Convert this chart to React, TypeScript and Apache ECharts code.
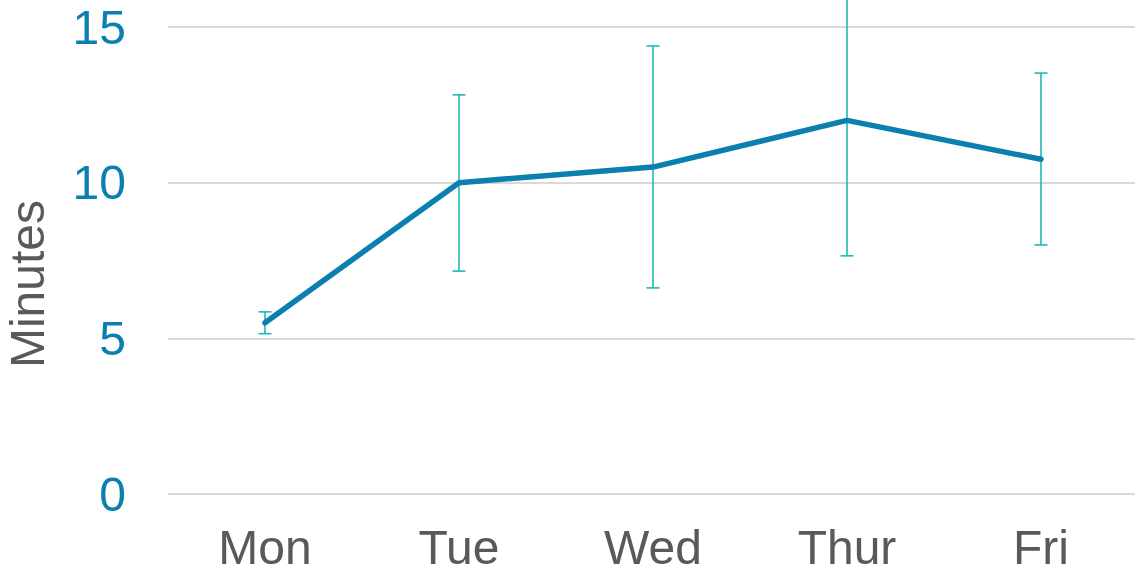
import React, { useEffect, useRef } from "react";
import * as echarts from "echarts";

const days = ["Mon", "Tue", "Wed", "Thur", "Fri"];
const minutes = [5.5, 10, 10.5, 12, 10.75];
const errLow = [5.15, 7.16, 6.62, 7.65, 8.0];
const errHigh = [5.85, 12.82, 14.39, 16.35, 13.52];
const yTicks = [0, 5, 10, 15];

export default function App() {
  const ref = useRef<HTMLDivElement>(null);
  useEffect(() => {
    const chart = echarts.init(ref.current!, null, { renderer: "svg" });
    const font = "'Liberation Sans', Arial, sans-serif";
    chart.setOption({
      animation: false,
      grid: { left: 168, right: 0, top: 27, bottom: 78, containLabel: false },
      graphic: [
        {
          type: "text",
          x: 27,
          y: 284,
          rotation: Math.PI / 2,
          style: {
            text: "Minutes",
            fill: "#595959",
            font: `48px ${font}`,
            align: "center",
            verticalAlign: "middle",
          },
        },
      ],
      xAxis: {
        type: "category",
        data: days,
        axisLine: { show: false },
        axisTick: { show: false },
        axisLabel: { color: "#595959", fontSize: 48, fontFamily: font, margin: 29 },
      },
      yAxis: {
        type: "value",
        min: yTicks[0],
        max: yTicks[yTicks.length - 1],
        interval: 5,
        axisLine: { show: false },
        axisTick: { show: false },
        splitLine: { lineStyle: { color: "#d9d9d9", width: 2 } },
        axisLabel: { color: "#0a7fb0", fontSize: 48, fontFamily: font, margin: 42 },
      },
      series: [
        {
          type: "custom",
          clip: false,
          z: 1,
          data: days.map((_, i) => [i, errLow[i], errHigh[i]]),
          renderItem: (params: any, api: any) => {
            const x = api.value(0);
            const lo = api.coord([x, api.value(1)]);
            const hi = api.coord([x, api.value(2)]);
            const hw = 6.5;
            const style = { stroke: "#1dbab5", lineWidth: 1.6, fill: "none" };
            return {
              type: "group",
              children: [
                { type: "line", shape: { x1: lo[0], y1: lo[1], x2: hi[0], y2: hi[1] }, style },
                { type: "line", shape: { x1: lo[0] - hw, y1: lo[1], x2: lo[0] + hw, y2: lo[1] }, style },
                { type: "line", shape: { x1: hi[0] - hw, y1: hi[1], x2: hi[0] + hw, y2: hi[1] }, style },
              ],
            };
          },
        },
        {
          type: "line",
          data: minutes,
          z: 2,
          symbol: "none",
          lineStyle: { color: "#0a7fb0", width: 5.5, cap: "round", join: "round" },
        },
      ],
    });
    return () => chart.dispose();
  }, []);
  return (
    <div
      ref={ref}
      style={{ position: "fixed", left: 0, top: 0, width: 1138, height: 572 }}
    />
  );
}
